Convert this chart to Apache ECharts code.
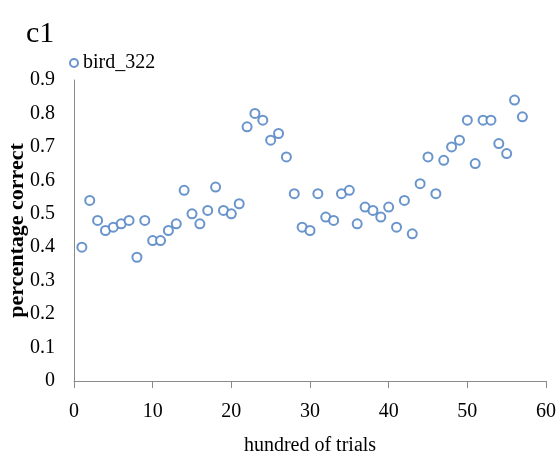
<!DOCTYPE html>
<html>
<head>
<meta charset="utf-8">
<script src="https://cdn.jsdelivr.net/npm/echarts@6/dist/echarts.min.js"></script>
<style>
  html, body { margin: 0; padding: 0; background: #fff; }
  #chart { width: 558px; height: 453px; }
</style>
</head>
<body>
<div id="chart"></div>
<script>
// Session index (hundreds of trials)
const trials = [
  1, 2, 3, 4, 5, 6, 7, 8, 9, 10,
  11, 12, 13, 14, 15, 16, 17, 18, 19, 20,
  21, 22, 23, 24, 25, 26, 27, 28, 29, 30,
  31, 32, 33, 34, 35, 36, 37, 38, 39, 40,
  41, 42, 43, 44, 45, 46, 47, 48, 49, 50,
  51, 52, 53, 54, 55, 56, 57
];
// Proportion of correct responses per block
const correct = [
  0.40, 0.54, 0.48, 0.45, 0.46, 0.47, 0.48, 0.37, 0.48, 0.42,
  0.42, 0.45, 0.47, 0.57, 0.50, 0.47, 0.51, 0.58, 0.51, 0.50,
  0.53, 0.76, 0.80, 0.78, 0.72, 0.74, 0.67, 0.56, 0.46, 0.45,
  0.56, 0.49, 0.48, 0.56, 0.57, 0.47, 0.52, 0.51, 0.49, 0.52,
  0.46, 0.54, 0.44, 0.59, 0.67, 0.56, 0.66, 0.70, 0.72, 0.78,
  0.65, 0.78, 0.78, 0.71, 0.68, 0.84, 0.79
];
const seriesName = 'bird_322';
const xTicks = { min: 0, max: 60, step: 10 };
const yTicks = { min: 0, max: 0.9, step: 0.1 };

const points = trials.map((t, i) => [t, correct[i]]);

const serif = '"Liberation Serif", "DejaVu Serif", serif';
const axisGray = '#8a8a8a';
const markerBlue = '#5a8ac6';

const chart = echarts.init(document.getElementById('chart'), null, { renderer: 'canvas' });
chart.setOption({
  animation: false,
  backgroundColor: '#ffffff',
  title: {
    text: 'c1',
    left: 26,
    top: 19,
    padding: 0,
    textStyle: { fontFamily: serif, fontSize: 30, fontWeight: 'normal', color: '#000' }
  },
  legend: {
    left: 69,
    top: 53,
    padding: 0,
    itemWidth: 8,
    itemHeight: 8,
    itemGap: 5,
    data: [{ name: seriesName, icon: 'emptyCircle' }],
    textStyle: { fontFamily: serif, fontSize: 20, color: '#000', padding: [0, 0, 0, 0] }
  },
  grid: {
    left: 74, right: 12, top: 80, bottom: 72,
    containLabel: false,
    outerBoundsMode: 'none'
  },
  xAxis: {
    type: 'value',
    min: xTicks.min,
    max: xTicks.max,
    interval: xTicks.step,
    name: 'hundred of trials',
    nameLocation: 'middle',
    nameGap: 55,
    nameMoveOverlap: false,
    nameTextStyle: { fontFamily: serif, fontSize: 20, color: '#000', verticalAlign: 'top' },
    axisLine: { show: true, onZero: false, lineStyle: { color: axisGray, width: 1 } },
    axisTick: { show: true, inside: false, length: 7, lineStyle: { color: axisGray } },
    axisLabel: { fontFamily: serif, fontSize: 20, color: '#000', margin: 21 },
    splitLine: { show: false }
  },
  yAxis: {
    type: 'value',
    min: yTicks.min,
    max: yTicks.max,
    interval: yTicks.step,
    name: 'percentage correct',
    nameLocation: 'middle',
    nameGap: 46,
    nameMoveOverlap: false,
    nameTextStyle: { fontFamily: serif, fontSize: 22, fontWeight: 'bold', color: '#000' },
    axisLine: { show: true, lineStyle: { color: axisGray, width: 1 } },
    axisTick: { show: false },
    axisLabel: {
      fontFamily: serif, fontSize: 20, color: '#000', margin: 19,
      formatter: v => (v === 0 ? '0' : v.toFixed(1))
    },
    splitLine: { show: false }
  },
  series: [{
    name: seriesName,
    type: 'scatter',
    data: points,
    symbol: 'emptyCircle',
    symbolSize: 9,
    itemStyle: { color: markerBlue, borderColor: markerBlue, borderWidth: 1.5, opacity: 0.9 }
  }]
});
</script>
</body>
</html>
